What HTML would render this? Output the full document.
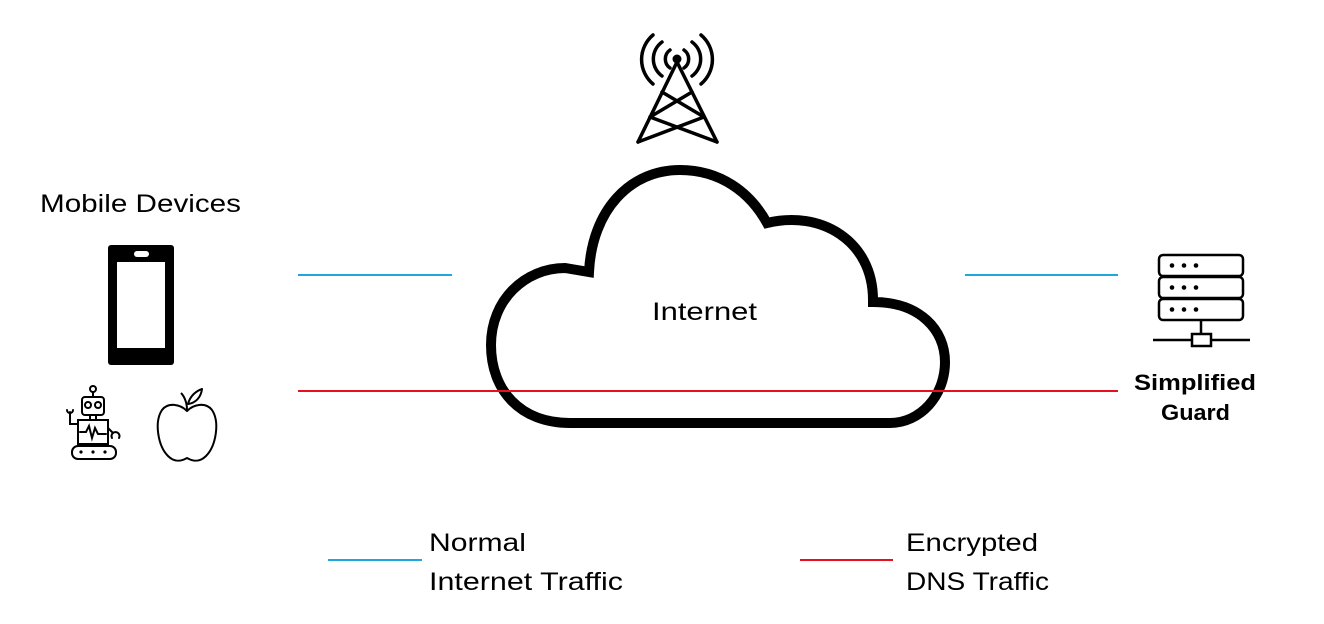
<!DOCTYPE html>
<html><head><meta charset="utf-8"><style>html,body{margin:0;padding:0;background:#fff}svg{display:block}</style></head>
<body>
<svg width="1324" height="624" viewBox="0 0 1324 624" xmlns="http://www.w3.org/2000/svg" font-family="Liberation Sans, sans-serif">
<rect width="1324" height="624" fill="#fff"/>
<line x1="298" y1="275" x2="452" y2="275" stroke="#1ea6de" stroke-width="2"/>
<line x1="965" y1="275" x2="1118" y2="275" stroke="#1ea6de" stroke-width="2"/>
<!-- cloud -->
<path d="M570,423 C520,423 491,390 491,345 C491,300 525,268 565,268 L589,272 C592,210 630,170 680,170 C720,170 750,192 767,223 C820,210 873,240 873,300 L873,302 C920,302 945,330 945,362 C945,396 920,423 890,423 Z" fill="none" stroke="#000" stroke-width="10"/>
<line x1="298" y1="391" x2="1118" y2="391" stroke="#e8101e" stroke-width="2"/>
<text x="652" y="320" font-size="25" textLength="105" lengthAdjust="spacingAndGlyphs">Internet</text>
<!-- tower -->
<circle cx="677" cy="59" r="4.5" fill="#000"/>
<g stroke="#000" stroke-width="3.5" fill="none" stroke-linecap="round" stroke-linejoin="round">
<path d="M638,142 L677,62 L717,142"/>
<path d="M662,92 L704,117 M692,92 L650,117 M650,117 L717,142 M704,117 L638,142"/>
<path d="M670,50 A11,11 0 0 0 670,68 M684,50 A11,11 0 0 1 684,68"/>
<path d="M662,42 A21,21 0 0 0 662,76 M692,42 A21,21 0 0 1 692,76"/>
<path d="M653,35 A32,32 0 0 0 653,84 M701,35 A32,32 0 0 1 701,84"/>
</g>
<text x="40" y="212" font-size="25" textLength="201" lengthAdjust="spacingAndGlyphs">Mobile Devices</text>
<!-- phone -->
<rect x="108" y="245" width="66" height="120" rx="3" fill="#000"/>
<rect x="117" y="262" width="48" height="86" fill="#fff"/>
<rect x="134" y="251" width="15" height="6" rx="3" fill="#fff"/>
<!-- robot -->
<g stroke="#000" stroke-width="2" fill="none" stroke-linecap="round">
<circle cx="93" cy="389" r="3"/>
<line x1="93" y1="392" x2="93" y2="397"/>
<rect x="82" y="397" width="22" height="18" rx="3"/>
<circle cx="88" cy="405" r="3"/><circle cx="98" cy="405" r="3"/>
<rect x="78" y="420" width="30" height="24"/>
<path d="M80,432 L86,432 L89,426 L92,438 L95,428 L98,434 L106,434"/>
<line x1="90" y1="415" x2="90" y2="420"/><line x1="96" y1="415" x2="96" y2="420"/>
<path d="M78,424 L70,424 L70,412 M67,410 A3,3 0 0 0 73,410"/>
<path d="M108,428 L113,433 M112,438 A4,4 0 1 1 119,438"/>
<rect x="72" y="446" width="44" height="13" rx="6"/>
</g>
<g fill="#000"><circle cx="81" cy="452" r="1.6"/><circle cx="93" cy="452" r="1.6"/><circle cx="105" cy="452" r="1.6"/></g>
<!-- apple -->
<g stroke="#000" stroke-width="2" fill="none" stroke-linejoin="round">
<path d="M187,411 C180,404 168,402 162,410 C154,422 158,446 168,456 C174,462 180,462 187,458 C194,462 200,462 206,456 C216,446 220,422 212,410 C206,402 194,404 187,411 Z"/>
<path d="M187,410 C187,402 184,396 181,393"/>
<path d="M188,404 C190,396 196,391 202,389 C201,397 196,403 188,404 Z"/>
</g>
<!-- server -->
<g stroke="#000" stroke-width="2.5" fill="none">
<rect x="1159" y="255" width="84" height="21" rx="4"/>
<rect x="1159" y="277" width="84" height="21" rx="4"/>
<rect x="1159" y="299" width="84" height="21" rx="4"/>
<line x1="1201" y1="320" x2="1201" y2="334"/>
<rect x="1192" y="334" width="19" height="12" fill="#fff"/>
<line x1="1153" y1="340" x2="1192" y2="340"/><line x1="1211" y1="340" x2="1250" y2="340"/>
</g>
<g fill="#000">
<circle cx="1172" cy="265.5" r="2.3"/><circle cx="1184" cy="265.5" r="2.3"/><circle cx="1196" cy="265.5" r="2.3"/>
<circle cx="1172" cy="287.5" r="2.3"/><circle cx="1184" cy="287.5" r="2.3"/><circle cx="1196" cy="287.5" r="2.3"/>
<circle cx="1172" cy="309.5" r="2.3"/><circle cx="1184" cy="309.5" r="2.3"/><circle cx="1196" cy="309.5" r="2.3"/>
</g>
<text x="1134" y="390" font-size="22" font-weight="bold" textLength="122" lengthAdjust="spacingAndGlyphs">Simplified</text>
<text x="1161" y="420" font-size="22" font-weight="bold" textLength="69" lengthAdjust="spacingAndGlyphs">Guard</text>
<line x1="328" y1="560" x2="422" y2="560" stroke="#1ea6de" stroke-width="2"/>
<line x1="800" y1="560" x2="893" y2="560" stroke="#e8101e" stroke-width="2"/>
<text x="429" y="551" font-size="25" textLength="97" lengthAdjust="spacingAndGlyphs">Normal</text>
<text x="429" y="590" font-size="25" textLength="194" lengthAdjust="spacingAndGlyphs">Internet Traffic</text>
<text x="906" y="551" font-size="25" textLength="132" lengthAdjust="spacingAndGlyphs">Encrypted</text>
<text x="906" y="590" font-size="25" textLength="143" lengthAdjust="spacingAndGlyphs">DNS Traffic</text>
</svg>
</body></html>
